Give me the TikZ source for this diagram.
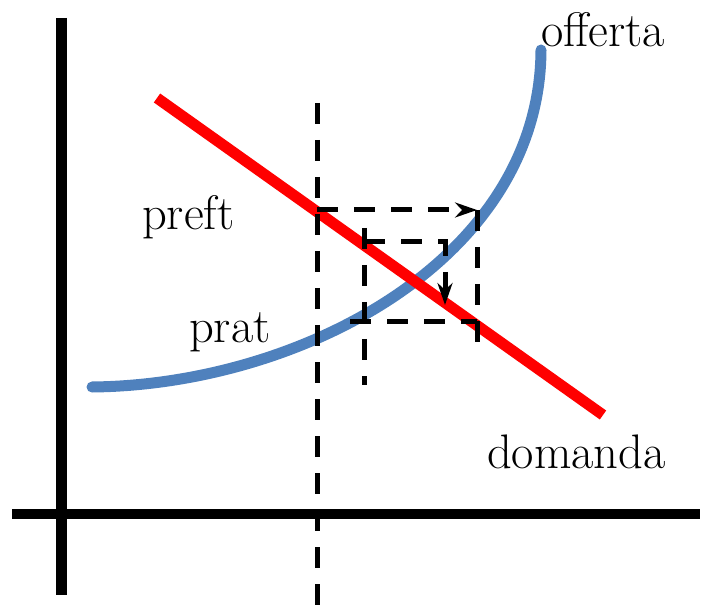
\documentclass[tikz,border=0pt]{standalone}
\usetikzlibrary{arrows.meta}
\definecolor{supplyblue}{HTML}{4F81BD}
\definecolor{demandred}{HTML}{FF0000}

\begin{document}
\begin{tikzpicture}[x=1pt,y=-1pt,
  dashline/.style={line width=5pt, dash pattern=on 21pt off 16pt},
  lbl/.style={anchor=base west, inner sep=0pt, font=\fontsize{48.5}{56}\selectfont}]
\useasboundingbox (0,0) rectangle (701,609);
% axes
\draw[line width=11pt] (61,18) -- (61,595);
\draw[line width=10pt] (12,514) -- (700,514);
% offerta and domanda
\coordinate (s0) at (92,387);
\coordinate (s1) at (541,50);
\coordinate (d0) at (157,98);
\coordinate (d1) at (603,415);
\draw[supplyblue, line width=11pt, line cap=round] (s0) .. controls (300,385) and (540,260) .. (s1);
\draw[demandred, line width=11pt] (d0) -- (d1);
% cobweb
\draw[dashline] (317,103) -- (317,609);
\draw[dashline, -{Stealth[length=22pt,width=15pt]}] (317,210) -- (477,210);
\draw[dashline] (477,210) -- (477,343);
\draw[dashline] (350,322) -- (477,322);
\draw[dashline] (364,228) -- (364,385);
\draw[dashline, -{Stealth[length=22pt,width=15pt]}] (364,242) -- (445,242) -- (445,305);
% labels
\node[lbl] (offerta) at (541,47) {offerta};
\node[lbl] (preft) at (142,230) {preft};
\node[lbl] (prat) at (189,343) {prat};
\node[lbl] (domanda) at (487,468) {domanda};
\end{tikzpicture}
\end{document}
